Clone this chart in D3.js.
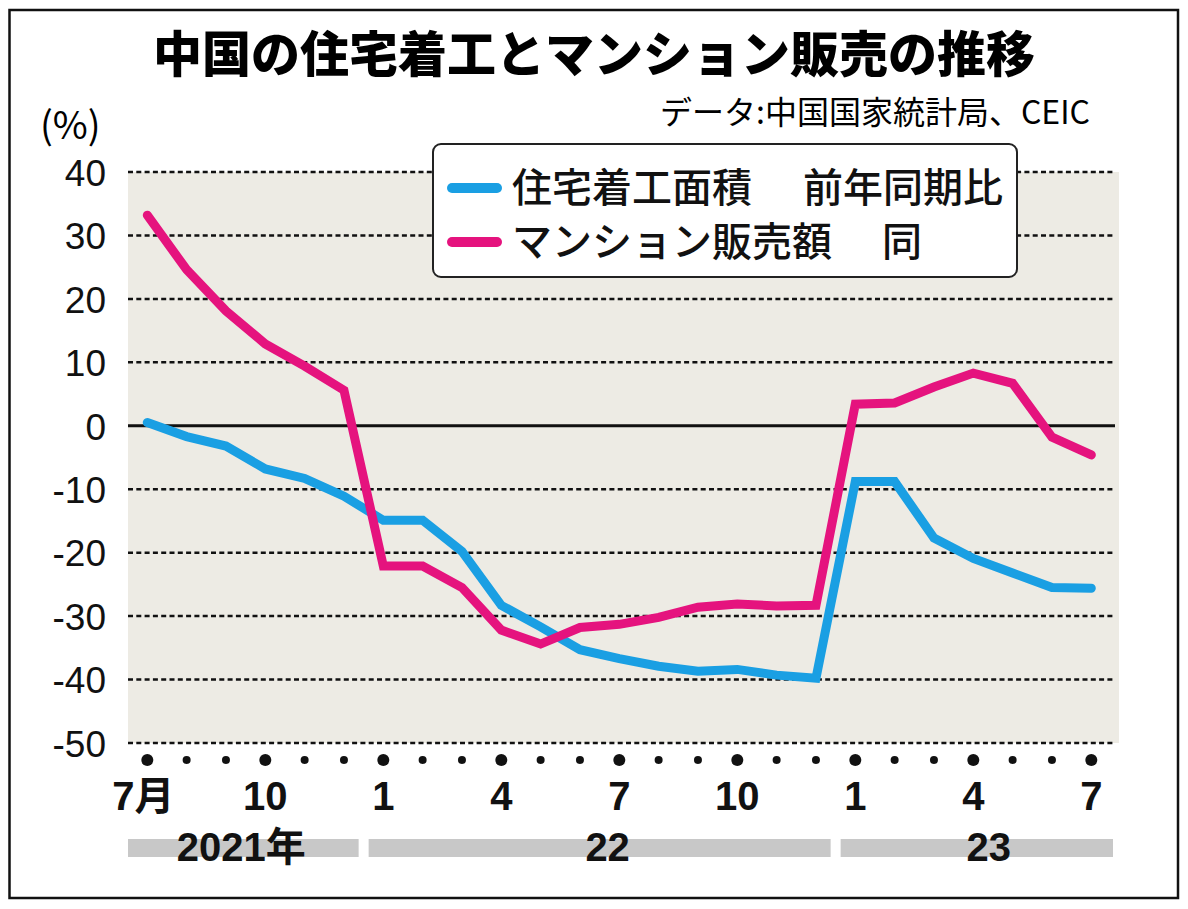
<!DOCTYPE html>
<html>
<head>
<meta charset="utf-8">
<script src="https://cdn.jsdelivr.net/npm/d3@7"></script>
<style>
  body { margin: 0; background: #fff; }
  svg { display: block; }
</style>
</head>
<body>
<svg id="chart" width="1188" height="909"></svg>
<script>
// data (% year on year)
const months = [
  '2021-07', '2021-08', '2021-09', '2021-10', '2021-11', '2021-12',
  '2022-01', '2022-02', '2022-03', '2022-04', '2022-05', '2022-06',
  '2022-07', '2022-08', '2022-09', '2022-10', '2022-11', '2022-12',
  '2023-01', '2023-02', '2023-03', '2023-04', '2023-05', '2023-06', '2023-07'
];
const housingStarts = [0.5, -1.7, -3.2, -6.8, -8.3, -11.1, -14.9, -14.9, -19.8, -28.3, -31.7, -35.3,
  -36.7, -37.9, -38.7, -38.4, -39.3, -39.8, -8.8, -8.8, -17.7, -20.9, -23.2, -25.5, -25.6];
const condoSales = [33.2, 24.6, 18.1, 12.9, 9.4, 5.6, -22.1, -22.1, -25.5, -32.2, -34.4, -31.8,
  -31.3, -30.2, -28.6, -28.1, -28.4, -28.3, 3.4, 3.6, 6.1, 8.3, 6.7, -1.8, -4.6];
const yTicks = [40, 30, 20, 10, 0, -10, -20, -30, -40, -50];
const xTickMonths = ['2021-07', '2021-10', '2022-01', '2022-04', '2022-07', '2022-10', '2023-01', '2023-04', '2023-07'];
const xTickLabels = ['7月', '10', '1', '4', '7', '10', '1', '4', '7'];
const yearNames = ['2021年', '22', '23'];
const yearStart = ['2021-07', '2022-01', '2023-01'];
const yearEnd = ['2021-12', '2022-12', '2023-07'];
const seriesNames = ['住宅着工面積', 'マンション販売額'];
const seriesNotes = ['前年同期比', '同'];

const svg = d3.select('#chart');
const JP = '"Noto Sans CJK JP", sans-serif';
const NUM = '"Liberation Sans", Arial, "Noto Sans CJK JP", sans-serif';
const blue = '#1a9fe3';
const pink = '#e5137e';

const plotLeft = 128, plotRight = 1115, plotTop = 172, plotBottom = 743;

const x = d3.scalePoint().domain(months).range([147.3, 1091.3]);
const y = d3.scaleLinear().domain([-50, 40]).range([plotBottom, plotTop]);
const step = x.step();

// frame
svg.append('rect')
  .attr('x', 9.5).attr('y', 10).attr('width', 1168.5).attr('height', 888)
  .attr('fill', 'none').attr('stroke', '#111').attr('stroke-width', 2.5);

// title + source
svg.append('text')
  .attr('x', 594).attr('y', 72)
  .attr('text-anchor', 'middle')
  .attr('font-family', JP).attr('font-weight', 900).attr('font-size', 49)
  .text('中国の住宅着工とマンション販売の推移');

svg.append('text')
  .attr('x', 1090).attr('y', 124)
  .attr('text-anchor', 'end')
  .attr('font-family', JP).attr('font-weight', 400).attr('font-size', 32)
  .text('データ:中国国家統計局、CEIC');

svg.append('text')
  .attr('x', 40).attr('y', 139)
  .attr('font-family', JP).attr('font-size', 38)
  .text('(%)');

// plot background
svg.append('rect')
  .attr('x', plotLeft).attr('y', plotTop)
  .attr('width', plotRight - plotLeft + 4).attr('height', plotBottom - plotTop)
  .attr('fill', '#edebe4');

// gridlines
svg.append('g')
  .selectAll('line')
  .data(yTicks)
  .join('line')
  .attr('x1', plotLeft).attr('x2', plotRight)
  .attr('y1', d => y(d)).attr('y2', d => y(d))
  .attr('stroke', '#111')
  .attr('stroke-width', d => d === 0 ? 3 : 2.5)
  .attr('stroke-dasharray', d => d === 0 ? null : '5,3.3');

// y axis labels (plain hyphen for negatives, as in the original)
const yAxis = svg.append('g')
  .attr('transform', `translate(${plotLeft - 22},0)`)
  .call(d3.axisLeft(y).tickValues(yTicks).tickSize(0).tickPadding(0).tickFormat(d => String(d)));
yAxis.select('.domain').remove();
yAxis.selectAll('text')
  .attr('font-family', NUM).attr('font-size', 37).attr('fill', '#111')
  .attr('dy', '0.36em');

// month dots
svg.append('g')
  .selectAll('circle')
  .data(months)
  .join('circle')
  .attr('cx', d => x(d))
  .attr('cy', 760)
  .attr('r', d => (+d.slice(5) - 1) % 3 === 0 ? 6 : 4)
  .attr('fill', '#111');

// x tick labels
svg.append('g')
  .selectAll('text')
  .data(xTickMonths)
  .join('text')
  .attr('x', (d, i) => x(d) + (i === 0 ? -4 : 0))
  .attr('y', 810)
  .attr('text-anchor', 'middle')
  .attr('font-family', NUM).attr('font-weight', 700).attr('font-size', 40)
  .attr('fill', '#111')
  .text((d, i) => xTickLabels[i]);

// year bars
const yearShift = [-2, 8, 12];
const yearG = svg.append('g');
yearNames.forEach((name, i) => {
  const x0 = i === 0 ? plotLeft : x(yearStart[i]) - step / 2 + 5;
  const x1 = i === yearNames.length - 1 ? plotRight - 2 : x(yearEnd[i]) + step / 2 - 5;
  yearG.append('rect')
    .attr('x', x0).attr('y', 839)
    .attr('width', x1 - x0).attr('height', 18)
    .attr('fill', '#c8c8c8');
  yearG.append('text')
    .attr('x', (x0 + x1) / 2 + yearShift[i])
    .attr('y', 861)
    .attr('text-anchor', 'middle')
    .attr('font-family', NUM).attr('font-weight', 700).attr('font-size', 40)
    .attr('fill', '#111')
    .text(name);
});

// lines
const line = d3.line()
  .x((d, i) => x(months[i]))
  .y(d => y(d));

[[housingStarts, blue], [condoSales, pink]].forEach(([vals, col]) => {
  svg.append('path')
    .datum(vals)
    .attr('d', line)
    .attr('fill', 'none')
    .attr('stroke', col)
    .attr('stroke-width', 9)
    .attr('stroke-linecap', 'round')
    .attr('stroke-linejoin', 'miter');
});

// legend
const legend = svg.append('g');
legend.append('rect')
  .attr('x', 433).attr('y', 144)
  .attr('width', 584).attr('height', 133)
  .attr('rx', 8)
  .attr('fill', '#fff').attr('stroke', '#222').attr('stroke-width', 2);

[blue, pink].forEach((col, i) => {
  const cy = 188 + i * 54;
  legend.append('line')
    .attr('x1', 452).attr('x2', 497)
    .attr('y1', cy).attr('y2', cy)
    .attr('stroke', col).attr('stroke-width', 10).attr('stroke-linecap', 'round');
  legend.append('text')
    .attr('x', 512).attr('y', cy + 14)
    .attr('font-family', JP).attr('font-weight', 500).attr('font-size', 40)
    .attr('fill', '#111')
    .text(seriesNames[i]);
  legend.append('text')
    .attr('x', i === 0 ? 803 : 882).attr('y', cy + 14)
    .attr('font-family', JP).attr('font-weight', 500).attr('font-size', 40)
    .attr('fill', '#111')
    .text(seriesNotes[i]);
});
</script>
</body>
</html>
